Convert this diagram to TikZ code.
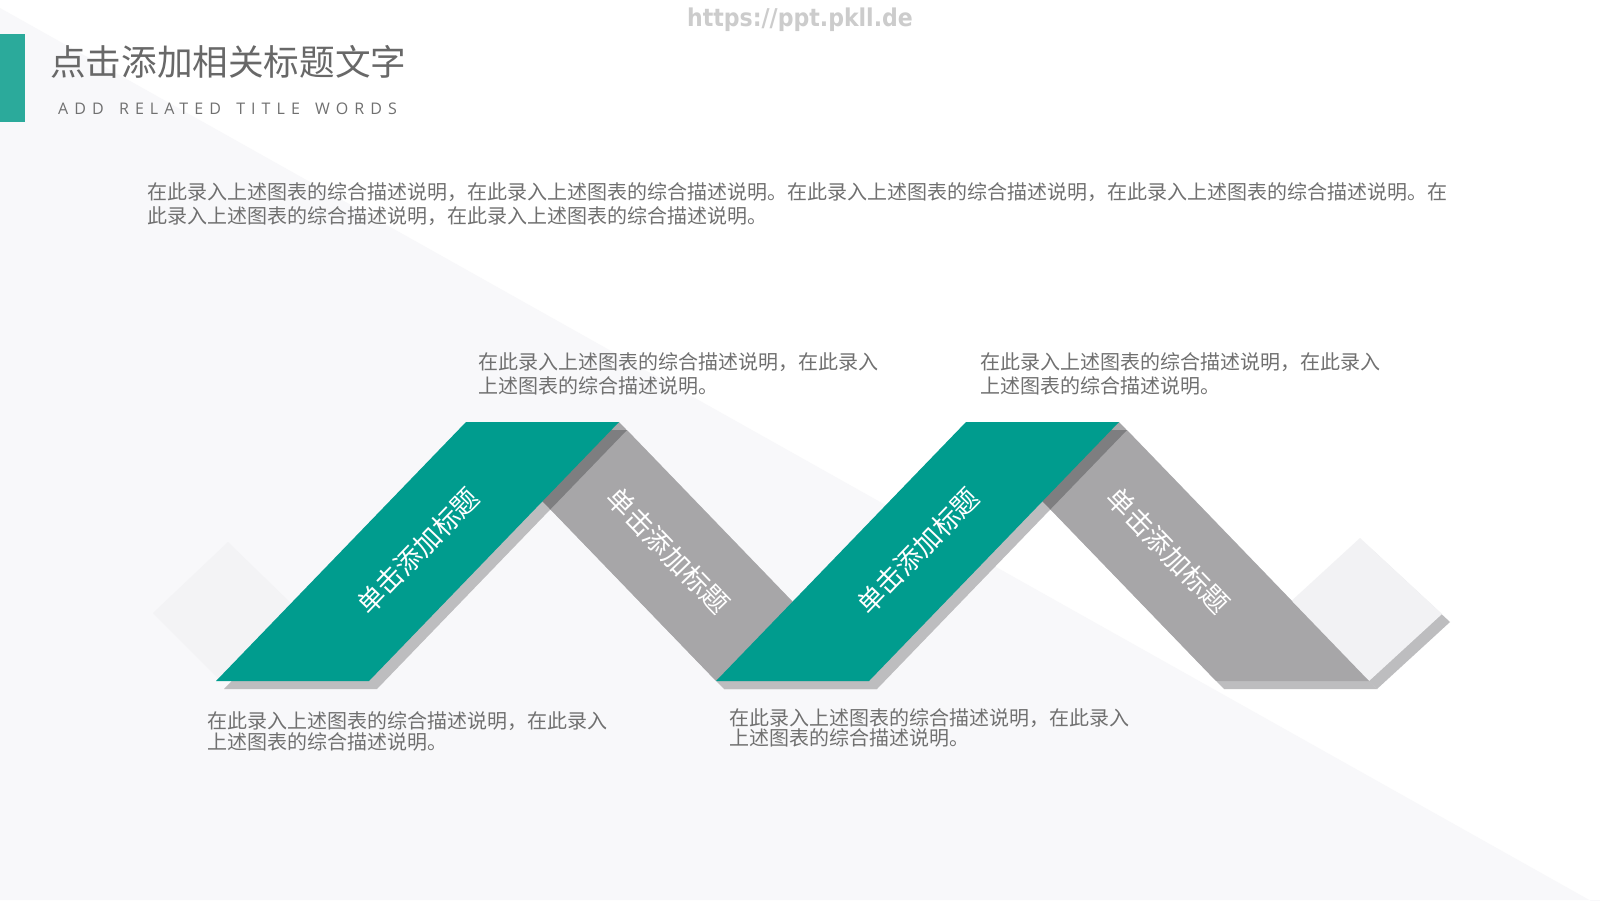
\documentclass[tikz,border=0pt]{standalone}
\usepackage{fontspec}
\setmainfont{Noto Sans CJK SC}
\newfontfamily\cjk{Noto Sans CJK SC}
\newfontfamily\subfont{Open Sans}[LetterSpace=38]
\newfontfamily\wmfont{DejaVu Sans Condensed}
\definecolor{cTeal}{HTML}{009C8E}
\definecolor{cBar}{HTML}{2BAA9B}
\definecolor{cBand}{HTML}{A7A6A8}
\definecolor{cFold}{HTML}{7E7E80}
\definecolor{cShadow}{HTML}{BDBDBF}
\definecolor{cTint}{HTML}{F8F8FA}
\definecolor{cGhost}{HTML}{F2F2F4}
\definecolor{cGhostL}{HTML}{F3F3F5}
\definecolor{cTxt}{HTML}{707070}
\definecolor{cTitle}{HTML}{686868}
\tikzset{
  body/.style={anchor=west, inner sep=0pt, text=cTxt, font=\cjk\fontsize{20}{24}\selectfont},
  bandtxt/.style={inner sep=0pt, text=white, font=\cjk\fontsize{27}{30}\selectfont},
}
\begin{document}
\begin{tikzpicture}[x=1pt,y=-1pt]
\useasboundingbox (0,0) rectangle (1600,900);
% background
\fill[white] (0,0) rectangle (1600,900);
\fill[cTint] (0,8) -- (1600,906) -- (1600,900) -- (0,900) -- cycle;
% left ghost
\fill[cGhostL] (153,613) -- (228,542) -- (300,612) -- (221,681) -- cycle;
% drop shadows
\begin{scope}[shift={(8,8)}]
  \fill[cShadow] (216,681) -- (369,681) -- (619,422) -- (466,422) -- cycle;
  \fill[cShadow] (466,422) -- (619,422) -- (869,681) -- (716,681) -- cycle;
  \fill[cShadow] (716,681) -- (869,681) -- (1119,422) -- (966,422) -- cycle;
  \fill[cShadow] (966,422) -- (1119,422) -- (1369,681) -- (1216,681) -- cycle;
  \fill[cShadow] (1369,681) -- (1442,614) -- (1360,538) -- (1287,605) -- cycle;
\end{scope}
% right ghost
\fill[cGhost] (1369,681) -- (1442,614) -- (1360,538) -- (1287,605) -- cycle;
% grey bands
\fill[cBand] (466,422) -- (619,422) -- (869,681) -- (716,681) -- cycle;
\fill[cBand] (966,422) -- (1119,422) -- (1369,681) -- (1216,681) -- cycle;
% fold shadows
\begin{scope}
  \clip (466,422) -- (619,422) -- (869,681) -- (716,681) -- cycle;
  \fill[cFold,shift={(8,8)}] (216,681) -- (369,681) -- (619,422) -- (466,422) -- cycle;
\end{scope}
\begin{scope}
  \clip (966,422) -- (1119,422) -- (1369,681) -- (1216,681) -- cycle;
  \fill[cFold,shift={(8,8)}] (716,681) -- (869,681) -- (1119,422) -- (966,422) -- cycle;
\end{scope}
% teal bands
\fill[cTeal] (216,681) -- (369,681) -- (619,422) -- (466,422) -- cycle;
\fill[cTeal] (716,681) -- (869,681) -- (1119,422) -- (966,422) -- cycle;
% band labels
\node[bandtxt, rotate=46] (b1) at (418,551) {单击添加标题};
\node[bandtxt, rotate=-46] (b2) at (668,551) {单击添加标题};
\node[bandtxt, rotate=46] (b3) at (918,551) {单击添加标题};
\node[bandtxt, rotate=-46] (b4) at (1168,551) {单击添加标题};
% header
\fill[cBar] (0,34) rectangle (24.5,122);
\node[anchor=west, inner sep=0pt, text=cTitle, font=\cjk\fontsize{35.6}{40}\selectfont] (title) at (50,62) {点击添加相关标题文字};
\node[anchor=west, inner sep=0pt, text=cTxt, font=\subfont\fontsize{16}{18}\selectfont] (subtitle) at (58,109) {ADD\hspace{5pt} RELATED\hspace{5pt} TITLE\hspace{5pt} WORDS};
\node[inner sep=0pt, text=black!20, font=\wmfont\bfseries\fontsize{24.5}{27}\selectfont] (wm) at (800,20) {https://ppt.pkll.de};
% intro paragraph
\node[body] (p1) at (147,192) {在此录入上述图表的综合描述说明，在此录入上述图表的综合描述说明。在此录入上述图表的综合描述说明，在此录入上述图表的综合描述说明。在};
\node[body] (p2) at (147,216) {此录入上述图表的综合描述说明，在此录入上述图表的综合描述说明。};
% item texts
\node[body] (a1) at (478,362) {在此录入上述图表的综合描述说明，在此录入};
\node[body] (a2) at (478,386) {上述图表的综合描述说明。};
\node[body] (c1) at (980,362) {在此录入上述图表的综合描述说明，在此录入};
\node[body] (c2) at (980,386) {上述图表的综合描述说明。};
\node[body] (d1) at (207,721) {在此录入上述图表的综合描述说明，在此录入};
\node[body] (d2) at (207,742) {上述图表的综合描述说明。};
\node[body] (e1) at (729,718) {在此录入上述图表的综合描述说明，在此录入};
\node[body] (e2) at (729,738) {上述图表的综合描述说明。};
\end{tikzpicture}
\end{document}
